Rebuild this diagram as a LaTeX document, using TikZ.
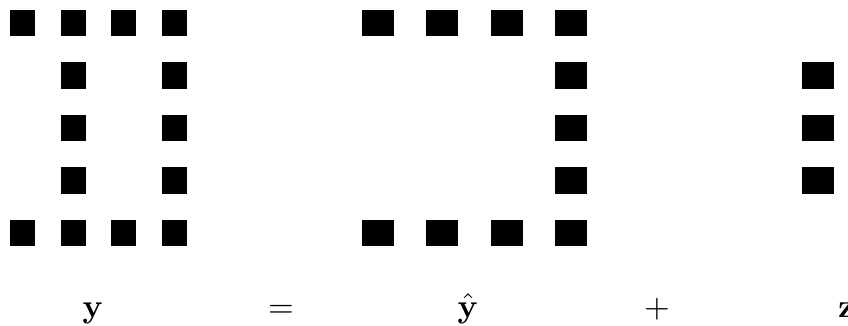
\documentclass[tikz,border=0pt]{standalone}
\usepackage{graphicx}
\newcommand{\bigtxt}[1]{\scalebox{3.3}{#1}}
\begin{document}
\begin{tikzpicture}[x=1pt,y=-1pt,
  sqa/.style={fill=black,draw=none,inner sep=0pt,minimum width=25.5pt,minimum height=26.5pt},
  sqb/.style={fill=black,draw=none,inner sep=0pt,minimum width=32pt,minimum height=26.5pt},
  lbl/.style={anchor=base,inner sep=0pt}]
\useasboundingbox (0,0) rectangle (848,326);
% left grid (y)
\foreach \c/\x in {1/22.5,2/73.5,3/123.5,4/174.5}{
  \node[sqa] (a1\c) at (\x,23) {};
  \node[sqa] (a5\c) at (\x,233) {};
}
\foreach \r/\yy in {2/75.5,3/128,4/180.5}{
  \node[sqa] (a\r2) at (73.5,\yy) {};
  \node[sqa] (a\r4) at (174.5,\yy) {};
}
% middle grid (y hat)
\foreach \c/\x in {1/378,2/442,3/507,4/571}{
  \node[sqb] (b1\c) at (\x,23) {};
  \node[sqb] (b5\c) at (\x,233) {};
}
\foreach \r/\yy in {2/75.5,3/128,4/180.5}{
  \node[sqb] (b\r4) at (571,\yy) {};
}
% right grid (z)
\foreach \r/\yy in {2/75.5,3/128,4/180.5}{
  \node[sqb] (c\r1) at (818,\yy) {};
}
% labels
\node[lbl] (ly) at (93,317) {\bigtxt{$\mathbf{y}$}};
\node[lbl] (leq) at (281,317) {\bigtxt{$=$}};
\node[lbl] (lyh) at (468,317) {\bigtxt{$\hat{\mathbf{y}}$}};
\node[lbl] (lplus) at (657,317) {\bigtxt{$+$}};
\node[lbl,anchor=base west] (lz) at (838,317) {\bigtxt{$\mathbf{z}$}};
\end{tikzpicture}
\end{document}
